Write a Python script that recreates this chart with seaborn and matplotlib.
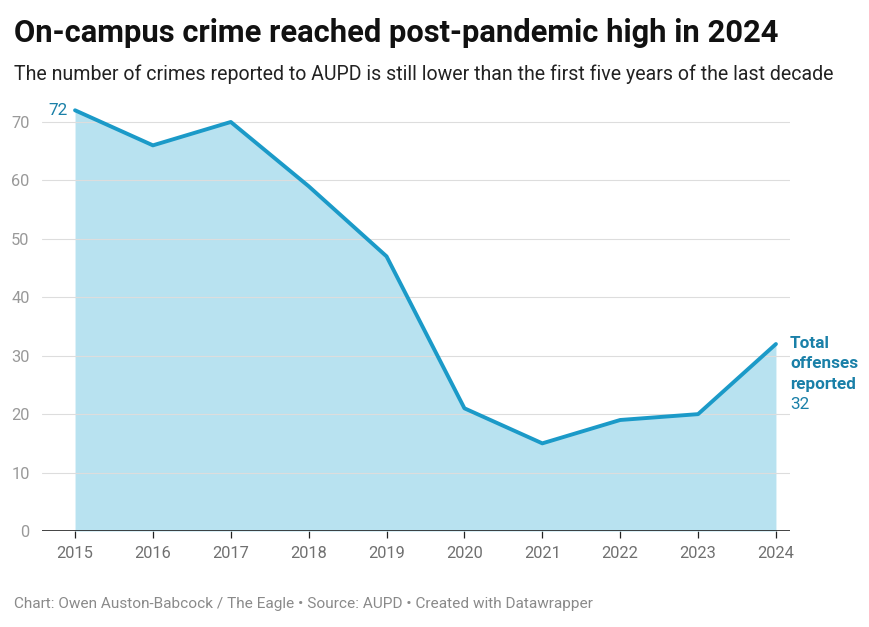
import numpy as np
import pandas as pd
import seaborn as sns
import matplotlib.pyplot as plt

years = [2015, 2016, 2017, 2018, 2019, 2020, 2021, 2022, 2023, 2024]
offenses = [72, 66, 70, 59, 47, 21, 15, 19, 20, 32]
y_ticks = [0, 10, 20, 30, 40, 50, 60, 70]

title = "On-campus crime reached post-pandemic high in 2024"
subtitle = "The number of crimes reported to AUPD is still lower than the first five years of the last decade"
footer = "Chart: Owen Auston-Babcock / The Eagle \u2022 Source: AUPD \u2022 Created with Datawrapper"

line_color = "#1b9ac8"
fill_color = "#b8e2f0"
label_color = "#1a80a8"

sns.set_theme(style="white")
plt.rcParams['font.family'] = ['Roboto', 'DejaVu Sans']

df = pd.DataFrame({'year': years, 'offenses': offenses})

fig = plt.figure(figsize=(8.7, 6.27), dpi=100)
ax = fig.add_axes([0.0483, 0.1531, 0.8597, 0.6874])

ax.fill_between(df['year'], df['offenses'], 0, color=fill_color, linewidth=0, zorder=1)
sns.lineplot(data=df, x='year', y='offenses', ax=ax, color=line_color, linewidth=2.8, zorder=3)

ax.set_xlim(2014.576, 2024.18)
ax.set_ylim(0, 73.76)
ax.set_yticks(y_ticks)
ax.set_xticks(years)
ax.set_xticklabels([str(y) for y in years])
ax.set_xlabel('')
ax.set_ylabel('')

for y in y_ticks[1:]:
    ax.axhline(y, color='#dddddd', linewidth=0.8, zorder=2)
ax.axhline(0, color='#222222', linewidth=1.2, zorder=4)

for s in ax.spines.values():
    s.set_visible(False)

ax.tick_params(axis='y', length=0, pad=9, labelsize=11.8, labelcolor='#999999')
ax.tick_params(axis='x', length=5, width=0.9, color='#222222', pad=6,
               labelsize=11.8, labelcolor='#707070', bottom=True)

ax.text(2015 - 0.1, 72, "72", ha='right', va='center', fontsize=12.3, color=label_color)
ax.text(2024 + 0.18, 33.3, "Total\noffenses\nreported", ha='left', va='top',
        fontsize=12.3, fontweight='bold', color=label_color, linespacing=1.42)
ax.text(2024 + 0.18, 21.7, "32", ha='left', va='center', fontsize=12.3,
        color=label_color)

fig.text(0.016, 0.948, title, fontsize=22.2, fontweight='bold', color='#111111', va='center')
fig.text(0.016, 0.881, subtitle, fontsize=14.05, color='#222222', va='center')
fig.text(0.016, 0.036, footer, fontsize=11.05, color='#8a8a8a', va='center')

fig.savefig('out.png', dpi=100)
